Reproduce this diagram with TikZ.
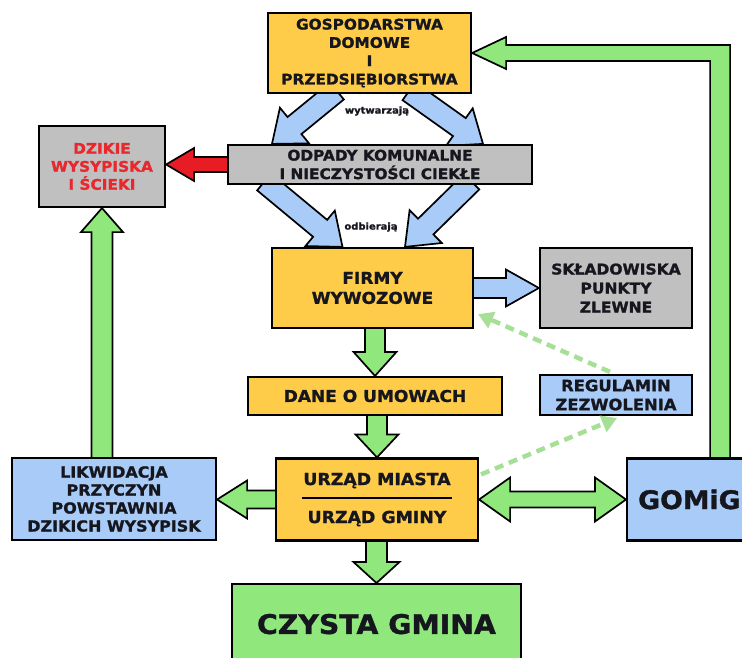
\documentclass[tikz,border=0pt]{standalone}
\usepackage{fontspec}
\newfontfamily\bfont[FakeStretch=1.05, BoldFeatures={FakeBold=1.3}]{DejaVu Sans}
\usetikzlibrary{calc,backgrounds,arrows.meta}
\pgfdeclarelayer{back}
\pgfsetlayers{back,background,main}
\definecolor{cyel}{RGB}{255,204,74}
\definecolor{cgray}{RGB}{192,192,192}
\definecolor{cblue}{RGB}{168,204,247}
\definecolor{cgreen}{RGB}{144,232,124}
\definecolor{cred}{RGB}{232,28,36}
\definecolor{credtext}{RGB}{232,40,44}
\definecolor{ctext}{RGB}{22,22,30}
\definecolor{cdash}{RGB}{166,224,150}
\tikzset{
  box/.style={draw=black, line width=2.2pt, inner sep=0pt, align=center, text=ctext, font=\bfont\bfseries},
  yelbox/.style={box, fill=cyel},
  graybox/.style={box, fill=cgray},
  bluebox/.style={box, fill=cblue},
  greenbox/.style={box, fill=cgreen},
  arr/.style={draw=black, line width=1.7pt, line join=miter},
  garr/.style={arr, fill=cgreen},
  barr/.style={arr, fill=cblue},
  rarr/.style={arr, fill=cred},
  dasharr/.style={draw=cdash, line width=4.5pt, dash pattern=on 9pt off 6pt, -{Triangle[width=17pt,length=15pt]}},
  small/.style={font=\bfont\bfseries\fontsize{9.5}{11}\selectfont, text=ctext, inner sep=1pt},
}
% #1 style, #2 start, #3 tip, #4 shaft half width, #5 head half width, #6 head length
\newcommand\blockarrow[6][]{%
  \path[#1] let \p1=(#2), \p2=(#3), \n1={atan2(\y2-\y1,\x2-\x1)}, \n2={veclen(\x2-\x1,\y2-\y1)} in
    ($(\p1)+(\n1:-5)+(\n1+90:#4)$) -- ($(\p1)+(\n1:{\n2-#6})+(\n1+90:#4)$)
    -- ($(\p1)+(\n1:{\n2-#6})+(\n1+90:#5)$) -- (\p2)
    -- ($(\p1)+(\n1:{\n2-#6})+(\n1-90:#5)$) -- ($(\p1)+(\n1:{\n2-#6})+(\n1-90:#4)$)
    -- ($(\p1)+(\n1:-5)+(\n1-90:#4)$) -- cycle;}
\begin{document}
\begin{tikzpicture}[x=1pt,y=1pt]
\useasboundingbox (0,0) rectangle (742,-657);
\clip (0,0) rectangle (742,-657);
\begin{pgfonlayer}{back}
\fill[white] (0,0) rectangle (742,-657);
\end{pgfonlayer}

% boxes
\node[yelbox, minimum width=203, minimum height=80, font=\bfont\bfseries\fontsize{14.6}{18.3}\selectfont] (g) at (369.5,-53)
  {GOSPODARSTWA\\DOMOWE\\I\\PRZEDSIĘBIORSTWA};
\node[graybox, minimum width=304, minimum height=39, font=\bfont\bfseries\fontsize{14.6}{18.5}\selectfont] (o) at (380,-164.5)
  {ODPADY KOMUNALNE\\I NIECZYSTOŚCI CIEKŁE};
\node[graybox, minimum width=126, minimum height=81, text=credtext, font=\bfont\bfseries\fontsize{14.6}{18}\selectfont] (dz) at (102,-166.5)
  {DZIKIE\\WYSYPISKA\\I ŚCIEKI};
\node[yelbox, minimum width=201, minimum height=80, font=\bfont\bfseries\fontsize{16.2}{20}\selectfont] (f) at (372.5,-288)
  {FIRMY\\WYWOZOWE};
\node[graybox, minimum width=152, minimum height=80, font=\bfont\bfseries\fontsize{14.8}{19}\selectfont] (s) at (616,-288)
  {SKŁADOWISKA\\PUNKTY\\ZLEWNE};
\node[yelbox, minimum width=254, minimum height=38, font=\bfont\bfseries\fontsize{16.2}{19}\selectfont] (d) at (375,-396)
  {DANE O UMOWACH};
\node[bluebox, minimum width=152, minimum height=40, font=\bfont\bfseries\fontsize{15.6}{19}\selectfont] (r) at (616,-395)
  {REGULAMIN\\ZEZWOLENIA};
\node[bluebox, minimum width=204, minimum height=82, font=\bfont\bfseries\fontsize{15.2}{18}\selectfont] (l) at (114,-499)
  {LIKWIDACJA\\PRZYCZYN\\POWSTAWNIA\\DZIKICH WYSYPISK};
\node[yelbox, minimum width=202, minimum height=82, font=\bfont\bfseries\fontsize{16.5}{38}\selectfont] (u) at (377,-499.5)
  {URZĄD MIASTA\\URZĄD GMINY};
\node[bluebox, anchor=west, minimum height=82, text width=164, inner xsep=11, align=left, font=\bfont\bfseries\fontsize{25.5}{28}\selectfont] (gm) at (626,-499.5)
  {GOMiG};
\node[greenbox, anchor=north, minimum width=289, minimum height=80, font=\bfont\bfseries\fontsize{27}{30}\selectfont] (c) at (376.5,-583)
  {CZYSTA GMINA};

\draw[line width=2pt, black] ($(u.center)+(-75,1.5)$) -- ($(u.center)+(75,1.5)$);

% labels
\node[small] (wy) at (377,-111) {wytwarzają};
\node[small] (od) at (371,-227) {odbierają};

% arrows behind boxes
\begin{pgfonlayer}{background}
\blockarrow[barr]{$(g.south)+(-36.5,0)$}{$(o.north)+(-108,0)$}{11}{23}{29}
\blockarrow[barr]{$(g.south)+(43.5,0)$}{$(o.north)+(103,0)$}{11}{23}{29}
\blockarrow[barr]{$(o.south)+(-112,0)$}{$(f.north)+(-30,0)$}{11}{23}{29}
\blockarrow[barr]{$(o.south)+(88,0)$}{$(f.north)+(32.5,0)$}{11}{23}{29}
\blockarrow[rarr]{o.west}{o.west -| dz.east}{7.5}{16.5}{28}
\blockarrow[barr]{f.east}{f.east -| s.west}{10}{18.5}{33}
\blockarrow[garr]{d.north |- f.south}{d.north}{10}{21.5}{24}
\blockarrow[garr]{u.north |- d.south}{u.north}{10}{21.5}{23}
\blockarrow[garr]{c.north |- u.south}{c.north}{10.5}{23}{21}
\blockarrow[garr]{u.west}{u.west -| l.east}{9}{19}{30}
\blockarrow[garr]{dz.south |- l.north}{dz.south}{10.5}{21}{24}
\draw[garr] (u.east) -- ($(u.east)+(31,22)$) -- ++(0,-14) -- ($(gm.west)+(-31,8)$) -- ++(0,14)
  -- (gm.west) -- ++(-31,-22) -- ++(0,14) -- ($(u.east)+(31,-8)$) -- ++(0,-14) -- cycle;
\draw[garr] ($(gm.north)+(-10,-5)$) |- ($(g.east)+(34,-8)$) -- ++(0,-8) -- (g.east)
  -- ($(g.east)+(34,16)$) -- ++(0,-8) -| ($(gm.north)+(10,-5)$) -- cycle;
\end{pgfonlayer}

% dashed arrows
\draw[dasharr] ($(r.north)+(-6,2)$) -- ($(f.south east)+(4,15)$);
\draw[dasharr] ($(u.north east)+(2,-17)$) -- ($(r.south)+(1,-2)$);
\end{tikzpicture}
\end{document}
